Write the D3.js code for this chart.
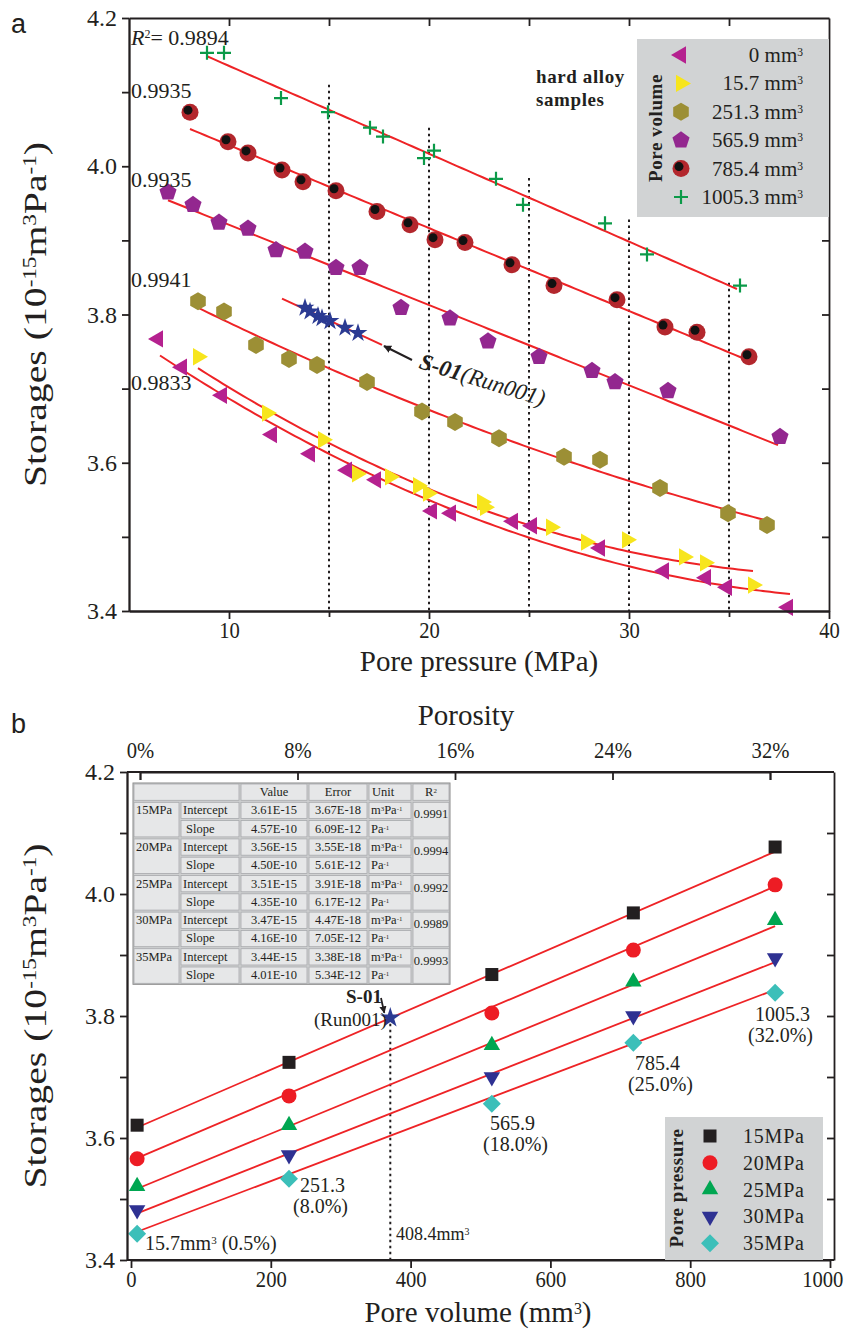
<!DOCTYPE html>
<html>
<head>
<meta charset="utf-8">
<script src="https://cdn.jsdelivr.net/npm/d3@7"></script>
<style>
body { margin: 0; background: #fff; }
text { font-family: "Liberation Serif", serif; fill: #231f20; }
.axis path, .axis line { stroke: #231f20; stroke-width: 1.8; }
.axis text { font-family: "Liberation Serif", serif; font-size: 24px; }
</style>
</head>
<body>
<svg width="847" height="1333"></svg>
<script>
var svg = d3.select('svg');

// ---------- panel a data: [pore pressure MPa, storage 1e-15 m3/Pa]
var vol0 = [[6.45,3.767],[7.65,3.729],[9.65,3.691],[12.15,3.638],[14.05,3.612],[15.9,3.590],[17.35,3.577],[20.15,3.535],[21.1,3.532],[24.2,3.521],[25.15,3.515],[28.55,3.485],[31.75,3.454],[33.85,3.445],[34.9,3.432],[37.95,3.405]];
var vol15 = [[8.45,3.743],[11.9,3.667],[14.7,3.631],[16.4,3.585],[18.05,3.581],[19.45,3.569],[19.95,3.559],[22.65,3.547],[22.8,3.540],[26.1,3.513],[27.85,3.493],[29.9,3.496],[32.75,3.473],[33.8,3.465],[36.2,3.435]];
var vol251 = [[8.45,3.818],[9.75,3.804],[11.35,3.759],[13.0,3.740],[14.4,3.732],[16.9,3.709],[19.65,3.669],[21.3,3.655],[23.5,3.633],[26.75,3.608],[28.55,3.604],[31.55,3.566],[34.95,3.532],[36.9,3.516]];
var vol566 = [[6.95,3.965],[8.2,3.948],[9.5,3.924],[10.95,3.916],[12.35,3.887],[13.8,3.885],[15.35,3.863],[16.55,3.863],[18.6,3.809],[21.05,3.795],[22.95,3.764],[25.5,3.743],[28.15,3.724],[29.3,3.709],[31.95,3.697],[37.55,3.635]];
var vol785 = [[8.05,4.073],[9.95,4.033],[10.95,4.018],[12.65,3.995],[13.7,3.979],[15.35,3.967],[17.4,3.939],[19.05,3.921],[20.3,3.901],[21.8,3.897],[24.15,3.867],[26.25,3.839],[29.4,3.820],[31.8,3.783],[33.4,3.776],[36.0,3.743]];
var vol1005 = [[8.9,4.153],[9.75,4.153],[12.6,4.092],[14.95,4.073],[17.05,4.052],[17.7,4.040],[19.75,4.011],[20.25,4.021],[23.35,3.983],[24.7,3.948],[28.8,3.923],[30.9,3.881],[35.55,3.839]];
var runS01 = [[13.8,3.809],[14.05,3.804],[14.45,3.798],[14.65,3.795],[15.05,3.791],[15.8,3.782],[16.45,3.775]];

var volNames = ['0', '15.7', '251.3', '565.9', '785.4', '1005.3'];
var fitDegree = [2, 2, 2, 1, 1, 1];
var fitSpans = [[6.55,38.05],[8.45,36.2],[8.45,36.9],[6.95,37.55],[8.05,36.0],[8.9,35.55]];
var s01Span = [12.65, 17.65];
var r2Labels = ['0.9894', '0.9935', '0.9935', '0.9941', '0.9833'];
var r2Heights = [4.164, 4.092, 3.972, 3.837, 3.698];
var guideX = [15, 20, 25, 30, 35];
var guideTop = [4.11, 4.052, 3.984, 3.928, 3.843];

// ---------- panel b data
var poreVol = [15.7, 251.3, 565.9, 785.4, 1005.3];
var porosityLbl = ['15.7mm', '251.3', '565.9', '785.4', '1005.3'];
var porosityPct = ['(0.5%)', '(8.0%)', '(18.0%)', '(25.0%)', '(32.0%)'];
var pressures = ['15MPa', '20MPa', '25MPa', '30MPa', '35MPa'];
var stor15 = [3.621, 3.724, 3.868, 3.969, 4.077];
var stor20 = [3.566, 3.669, 3.805, 3.908, 4.015];
var stor25 = [3.521, 3.621, 3.752, 3.856, 3.957];
var stor30 = [3.482, 3.572, 3.700, 3.800, 3.895];
var stor35 = [3.443, 3.533, 3.656, 3.756, 3.838];
var intercepts = [3.61, 3.56, 3.51, 3.47, 3.44];   // 1e-15
var slopes = [4.57, 4.50, 4.35, 4.16, 4.01];       // 1e-10
var interceptTxt = ['3.61E-15', '3.56E-15', '3.51E-15', '3.47E-15', '3.44E-15'];
var interceptErr = ['3.67E-18', '3.55E-18', '3.91E-18', '4.47E-18', '3.38E-18'];
var slopeTxt = ['4.57E-10', '4.50E-10', '4.35E-10', '4.16E-10', '4.01E-10'];
var slopeErr = ['6.09E-12', '5.61E-12', '6.17E-12', '7.05E-12', '5.34E-12'];
var r2b = ['0.9991', '0.9994', '0.9992', '0.9989', '0.9993'];
var s01Vol = 408.4, s01Stor = 3.797;
var volTicks = [0, 200, 400, 600, 800, 1000];
var porosityTicks = ['0%', '8%', '16%', '24%', '32%'];

// ---------- helpers
function poly(n, r, rot) {
    var p = [];
    for (var i = 0; i < n; i++) {
        var a = rot + i * 2 * Math.PI / n;
        p.push([r * Math.cos(a), r * Math.sin(a)]);
    }
    return 'M' + p.join('L') + 'Z';
}

function polyfit(pts, deg) {
    var n = deg + 1, A = [], b = [];
    for (var i = 0; i < n; i++) {
        A.push([]);
        b.push(d3.sum(pts, function(d){ return d[1] * Math.pow(d[0], i); }));
        for (var j = 0; j < n; j++) {
            A[i].push(d3.sum(pts, function(d){ return Math.pow(d[0], i + j); }));
        }
    }
    for (var k = 0; k < n; k++) {
        for (var r = k + 1; r < n; r++) {
            var f = A[r][k] / A[k][k];
            for (var c = k; c < n; c++) A[r][c] -= f * A[k][c];
            b[r] -= f * b[k];
        }
    }
    var coef = new Array(n);
    for (var k2 = n - 1; k2 >= 0; k2--) {
        var s = b[k2];
        for (var c2 = k2 + 1; c2 < n; c2++) s -= A[k2][c2] * coef[c2];
        coef[k2] = s / A[k2][k2];
    }
    return function(x){ return d3.sum(coef, function(c, i){ return c * Math.pow(x, i); }); };
}

function sup(sel, base, s) {
    sel.append('tspan').text(base);
    sel.append('tspan').attr('baseline-shift', 'super').attr('font-size', '0.55em').text(s);
}

function storTitle(sel) {
    sel.append('tspan').text('Storages (10');
    sel.append('tspan').attr('baseline-shift', 'super').attr('font-size', 18).text('-15');
    sel.append('tspan').text('m');
    sel.append('tspan').attr('baseline-shift', 'super').attr('font-size', 18).text('3');
    sel.append('tspan').text('Pa');
    sel.append('tspan').attr('baseline-shift', 'super').attr('font-size', 18).text('-1');
    sel.append('tspan').text(')');
}

// narrow the tick labels, the original uses a condensed face
function narrow(g) {
    g.selectAll('text').attr('transform', 'scale(0.86,1)');
}

// marker drawers for panel a
var markA = [
    function(g){ g.append('path').attr('d', poly(3, 10, Math.PI)).attr('fill', '#b5218f'); },
    function(g){ g.append('path').attr('d', poly(3, 10, 0)).attr('fill', '#f7e51d'); },
    function(g){ g.append('path').attr('d', poly(6, 9, -Math.PI / 2)).attr('fill', '#9c8f35'); },
    function(g){ g.append('path').attr('d', poly(5, 9, -Math.PI / 2)).attr('fill', '#93278f'); },
    function(g){
        g.append('circle').attr('r', 8.5).attr('fill', '#b3272d');
        g.append('circle').attr('r', 4.5).attr('cx', -2).attr('cy', -2).attr('fill', '#111');
    },
    function(g){
        g.append('path').attr('d', 'M-7,0H7M0,-7V7').attr('stroke', '#0b9a48').attr('stroke-width', 2.2);
    }
];

// ================= PANEL A =================
var xA = d3.scaleLinear().domain([5, 40]).range([129, 829]);
var yA = d3.scaleLinear().domain([3.4, 4.2]).range([611, 18]);

svg.append('text').attr('x', 11).attr('y', 33).attr('font-size', 27)
    .style('font-family', '"Liberation Sans", Arial, sans-serif').text('a');

// dotted guides
svg.append('g').selectAll('line').data(guideX).enter().append('line')
    .attr('x1', function(d){ return xA(d); }).attr('x2', function(d){ return xA(d); })
    .attr('y1', function(d, i){ return yA(guideTop[i]); }).attr('y2', yA(3.4))
    .attr('stroke', '#231f20').attr('stroke-width', 2).attr('stroke-dasharray', '2.5,3.5');

var seriesA = [vol0, vol15, vol251, vol566, vol785, vol1005];
var lineA = d3.line().x(function(d){ return xA(d[0]); }).y(function(d){ return yA(d[1]); });

seriesA.forEach(function(data, k){
    var f = polyfit(data, fitDegree[k]);
    var xs = d3.range(fitSpans[k][0], fitSpans[k][1] + 0.01, 0.25);
    svg.append('path').datum(xs.map(function(x){ return [x, f(x)]; }))
        .attr('d', lineA).attr('fill', 'none').attr('stroke', '#ee2326').attr('stroke-width', 2);
});
var fS = polyfit(runS01, 1);
svg.append('path').datum([[s01Span[0], fS(s01Span[0])], [s01Span[1], fS(s01Span[1])]])
    .attr('d', lineA).attr('fill', 'none').attr('stroke', '#ee2326').attr('stroke-width', 2);

seriesA.forEach(function(data, k){
    svg.append('g').selectAll('g').data(data).enter().append('g')
        .attr('transform', function(d){ return 'translate(' + xA(d[0]) + ',' + yA(d[1]) + ')'; })
        .each(function(){ markA[k](d3.select(this)); });
});

svg.append('g').selectAll('path').data(runS01).enter().append('path')
    .attr('d', d3.symbol(d3.symbolStar, 110))
    .attr('transform', function(d){ return 'translate(' + xA(d[0]) + ',' + yA(d[1]) + ')'; })
    .attr('fill', '#2b3a92');

// axes
svg.append('g').attr('class', 'axis').attr('transform', 'translate(0,' + yA(3.4) + ')')
    .call(d3.axisBottom(xA).tickValues([10, 20, 30, 40]).tickSize(8).tickSizeOuter(0).tickPadding(2)).call(narrow);
svg.append('g').attr('class', 'axis').attr('transform', 'translate(0,' + yA(3.4) + ')')
    .call(d3.axisBottom(xA).tickValues([15, 25, 35]).tickSize(6).tickFormat('').tickSizeOuter(0));
svg.append('g').attr('class', 'axis').attr('transform', 'translate(0,' + yA(4.2) + ')')
    .call(d3.axisTop(xA).tickValues([10, 15, 20, 25, 30, 35]).tickSize(-8).tickFormat('').tickSizeOuter(0));
svg.append('g').attr('class', 'axis').attr('transform', 'translate(' + xA(5) + ',0)')
    .call(d3.axisLeft(yA).tickValues([3.4, 3.6, 3.8, 4.0, 4.2]).tickFormat(d3.format('.1f')).tickSize(7).tickSizeOuter(0).tickPadding(5));
svg.append('g').attr('class', 'axis').attr('transform', 'translate(' + xA(5) + ',0)')
    .call(d3.axisLeft(yA).tickValues([3.5, 3.7, 3.9, 4.1]).tickFormat('').tickSize(7).tickSizeOuter(0));
svg.append('g').attr('class', 'axis').attr('transform', 'translate(' + xA(40) + ',0)')
    .call(d3.axisRight(yA).tickValues(d3.range(3.5, 4.15, 0.1)).tickFormat('').tickSize(-7).tickSizeOuter(0));

var tA = svg.append('text').attr('transform', 'translate(46,' + ((yA(3.4) + yA(4.2)) / 2) + ') rotate(-90)')
    .attr('text-anchor', 'middle').attr('font-size', 31)
    .attr('textLength', 345).attr('lengthAdjust', 'spacingAndGlyphs');
storTitle(tA);

svg.append('text').attr('x', (xA(5) + xA(40)) / 2).attr('y', 671).attr('text-anchor', 'middle')
    .attr('font-size', 29).text('Pore pressure (MPa)');

// R2 labels
svg.selectAll('.r2').data(r2Labels).enter().append('text').attr('class', 'r2')
    .attr('x', 131).attr('y', function(d, i){ return yA(r2Heights[i]); })
    .attr('font-size', 22)
    .each(function(d, i){
        var t = d3.select(this);
        if (i === 0) {
            t.append('tspan').attr('font-style', 'italic').text('R');
            t.append('tspan').attr('baseline-shift', 'super').attr('font-size', 12).text('2');
            t.append('tspan').text('= ' + d);
        } else {
            t.text(d);
        }
    });

// S-01 annotation
svg.append('defs').append('marker').attr('id', 'arr').attr('viewBox', '0 0 10 10')
    .attr('refX', 9).attr('refY', 5).attr('markerWidth', 4).attr('markerHeight', 4).attr('orient', 'auto')
    .append('path').attr('d', 'M0,0L10,5L0,10Z').attr('fill', '#231f20');
svg.append('line').attr('x1', 412).attr('y1', 360).attr('x2', 384).attr('y2', 346)
    .attr('stroke', '#231f20').attr('stroke-width', 2).attr('marker-end', 'url(#arr)');
var sA = svg.append('text').attr('transform', 'translate(418,368) rotate(17)').attr('font-size', 23);
sA.append('tspan').attr('font-weight', 'bold').attr('font-style', 'italic').text('S-01');
sA.append('tspan').attr('font-style', 'italic').text('(Run001)');

svg.append('text').attr('x', 536).attr('y', 83).attr('font-size', 19).attr('font-weight', 'bold').attr('letter-spacing', 0.6).text('hard alloy');
svg.append('text').attr('x', 536).attr('y', 106).attr('font-size', 19).attr('font-weight', 'bold').attr('letter-spacing', 0.6).text('samples');

// legend a
svg.append('rect').attr('x', 637).attr('y', 39).attr('width', 192).attr('height', 178).attr('fill', '#d1d3d4');
svg.append('text').attr('transform', 'translate(662,128) rotate(-90)').attr('text-anchor', 'middle')
    .attr('font-size', 19).attr('font-weight', 'bold').attr('letter-spacing', 0.6).text('Pore volume');
volNames.forEach(function(name, k){
    var yy = 55 + k * 28.4;
    var g = svg.append('g').attr('transform', 'translate(681,' + yy + ')');
    markA[k](g);
    var t = svg.append('text').attr('x', 803).attr('y', yy + 7).attr('text-anchor', 'end').attr('font-size', 21);
    sup(t, name + ' mm', '3');
});

// ================= PANEL B =================
var xB = d3.scaleLinear().domain([0, 1000]).range([127, 771.7]);
var xBAxis = d3.scaleLinear().domain([0, 1000]).range([131, 830]);
var yB = d3.scaleLinear().domain([3.4, 4.2]).range([1260, 772]);
var xLeftB = 127, xRightB = 834;

svg.append('text').attr('x', 11).attr('y', 733).attr('font-size', 27)
    .style('font-family', '"Liberation Sans", Arial, sans-serif').text('b');

var colorsB = ['#231f20', '#ed1c24', '#00a651', '#2e3192', '#3cbfb9'];
var markB = [
    function(g, c){ g.append('rect').attr('x', -6.5).attr('y', -6.5).attr('width', 13).attr('height', 13).attr('fill', c); },
    function(g, c){ g.append('circle').attr('r', 7.5).attr('fill', c); },
    function(g, c){ g.append('path').attr('d', poly(3, 9.5, -Math.PI / 2)).attr('fill', c); },
    function(g, c){ g.append('path').attr('d', poly(3, 9.5, Math.PI / 2)).attr('fill', c); },
    function(g, c){ g.append('path').attr('d', poly(4, 9, 0)).attr('fill', c); }
];
var seriesB = [stor15, stor20, stor25, stor30, stor35];
var lineB = d3.line().x(function(d){ return xB(d[0]); }).y(function(d){ return yB(d[1]); });

// dotted line at S-01
svg.append('line').attr('x1', xB(s01Vol)).attr('x2', xB(s01Vol)).attr('y1', yB(s01Stor)).attr('y2', yB(3.4))
    .attr('stroke', '#231f20').attr('stroke-width', 2).attr('stroke-dasharray', '2.5,3.5');

seriesB.forEach(function(vals, k){
    var ends = [poreVol[0], poreVol[4]];
    svg.append('path').datum(ends.map(function(v){ return [v, intercepts[k] + slopes[k] * 1e-4 * v]; }))
        .attr('d', lineB).attr('fill', 'none').attr('stroke', '#ee2326').attr('stroke-width', 1.8);
});
seriesB.forEach(function(vals, k){
    svg.append('g').selectAll('g').data(vals).enter().append('g')
        .attr('transform', function(d, i){ return 'translate(' + xB(poreVol[i]) + ',' + yB(d) + ')'; })
        .each(function(){ markB[k](d3.select(this), colorsB[k]); });
});
svg.append('path').attr('d', d3.symbol(d3.symbolStar, 130))
    .attr('transform', 'translate(' + xB(s01Vol) + ',' + yB(s01Stor) + ')').attr('fill', '#2b3a92');

// axes b
var bx = svg.append('g').attr('class', 'axis').attr('transform', 'translate(0,' + yB(3.4) + ')')
    .call(d3.axisBottom(xBAxis).tickValues(volTicks).tickFormat(d3.format('d')).tickSize(8).tickSizeOuter(0).tickPadding(2)).call(narrow);
bx.selectAll('text').filter(function(d){ return d === 1000; }).attr('dx', -9);
svg.append('line').attr('x1', xLeftB).attr('x2', xRightB).attr('y1', yB(3.4)).attr('y2', yB(3.4)).attr('stroke', '#231f20').attr('stroke-width', 1.8);
svg.append('line').attr('x1', xLeftB).attr('x2', xRightB).attr('y1', yB(4.2)).attr('y2', yB(4.2)).attr('stroke', '#231f20').attr('stroke-width', 1.8);
svg.append('g').attr('class', 'axis').attr('transform', 'translate(' + xLeftB + ',0)')
    .call(d3.axisLeft(yB).tickValues([3.4, 3.6, 3.8, 4.0, 4.2]).tickFormat(d3.format('.1f')).tickSize(7).tickSizeOuter(0).tickPadding(5));
svg.append('g').attr('class', 'axis').attr('transform', 'translate(' + xLeftB + ',0)')
    .call(d3.axisLeft(yB).tickValues([3.5, 3.7, 3.9, 4.1]).tickFormat('').tickSize(7).tickSizeOuter(0));
svg.append('g').attr('class', 'axis').attr('transform', 'translate(' + xRightB + ',0)')
    .call(d3.axisRight(yB).tickValues(d3.range(3.5, 4.15, 0.1)).tickFormat('').tickSize(-7).tickSizeOuter(0));

// porosity top labels
var xP = d3.scalePoint().domain(porosityTicks).range([140, 770]);
svg.append('g').attr('class', 'axis').attr('transform', 'translate(0,' + yB(4.2) + ')')
    .call(d3.axisTop(xP).tickSize(-8).tickPadding(14)).call(narrow);
svg.append('text').attr('x', 466).attr('y', 725).attr('text-anchor', 'middle').attr('font-size', 29).text('Porosity');

var tB = svg.append('text').attr('transform', 'translate(46,' + ((yB(3.4) + yB(4.2)) / 2) + ') rotate(-90)')
    .attr('text-anchor', 'middle').attr('font-size', 31)
    .attr('textLength', 345).attr('lengthAdjust', 'spacingAndGlyphs');
storTitle(tB);

var xt = svg.append('text').attr('x', 478).attr('y', 1322).attr('text-anchor', 'middle').attr('font-size', 29);
sup(xt, 'Pore volume (mm', '3');
xt.append('tspan').attr('baseline-shift', '0').text(')');

// point labels b
var lblPos = [[145, 1250], [300, 1192], [490, 1130], [635, 1070], [755, 1021]];
porosityLbl.forEach(function(l, i){
    if (i === 0) {
        var t0 = svg.append('text').attr('x', lblPos[0][0]).attr('y', lblPos[0][1]).attr('font-size', 20);
        sup(t0, l, '3');
        t0.append('tspan').text(' ' + porosityPct[0]);
    } else {
        svg.append('text').attr('x', lblPos[i][0]).attr('y', lblPos[i][1]).attr('font-size', 20).text(l);
        svg.append('text').attr('x', lblPos[i][0] - 7).attr('y', lblPos[i][1] + 21).attr('font-size', 20).text(porosityPct[i]);
    }
});
var t408 = svg.append('text').attr('x', 396).attr('y', 1240).attr('font-size', 18);
sup(t408, s01Vol + 'mm', '3');

svg.append('text').attr('x', 346).attr('y', 1003).attr('font-size', 19).attr('font-weight', 'bold').text('S-01');
svg.append('text').attr('x', 314).attr('y', 1026).attr('font-size', 19).text('(Run001)');
svg.append('line').attr('x1', 381).attr('y1', 998).attr('x2', xB(s01Vol) - 6).attr('y2', yB(s01Stor) - 5)
    .attr('stroke', '#231f20').attr('stroke-width', 1.8).attr('marker-end', 'url(#arr)');

// legend b
svg.append('rect').attr('x', 665).attr('y', 1117).attr('width', 158).attr('height', 143).attr('fill', '#d1d3d4');
svg.append('text').attr('transform', 'translate(683,1188) rotate(-90)').attr('text-anchor', 'middle')
    .attr('font-size', 19).attr('font-weight', 'bold').attr('letter-spacing', 0.6).text('Pore pressure');
pressures.forEach(function(p, k){
    var yy = 1136 + k * 26.8;
    markB[k](svg.append('g').attr('transform', 'translate(710,' + yy + ')'), colorsB[k]);
    svg.append('text').attr('x', 743).attr('y', yy + 7).attr('font-size', 20).attr('letter-spacing', 0.8).text(p);
});

// fit table
var colX = [133, 180, 240, 308, 368, 412, 450];
var rowH = 18.3, tTop = 783;
var tbl = svg.append('g').attr('font-size', 12.5);
tbl.append('rect').attr('x', colX[0]).attr('y', tTop).attr('width', colX[6] - colX[0]).attr('height', rowH * 11)
    .attr('fill', '#cfd0d1').attr('stroke', '#8a8a8a');
function cell(c0, c1, r0, r1) {
    tbl.append('rect').attr('x', colX[c0] + 1).attr('y', tTop + r0 * rowH + 1)
        .attr('width', colX[c1] - colX[c0] - 2).attr('height', (r1 - r0) * rowH - 2)
        .attr('fill', '#e6e7e8').attr('stroke', '#a7a9ac').attr('stroke-width', 0.8);
}
function ctext(x, y, s, anchor) {
    return tbl.append('text').attr('x', x).attr('y', y).attr('text-anchor', anchor || 'start').text(s);
}
cell(0, 2, 0, 1); cell(2, 3, 0, 1); cell(3, 4, 0, 1); cell(4, 5, 0, 1); cell(5, 6, 0, 1);
ctext((colX[2] + colX[3]) / 2, tTop + 13, 'Value', 'middle');
ctext((colX[3] + colX[4]) / 2, tTop + 13, 'Error', 'middle');
ctext(colX[4] + 4, tTop + 13, 'Unit');
sup(ctext((colX[5] + colX[6]) / 2, tTop + 13, '', 'middle'), 'R', '2');
pressures.forEach(function(p, k){
    var r = 1 + k * 2;
    cell(0, 1, r, r + 2); cell(1, 2, r, r + 1); cell(1, 2, r + 1, r + 2);
    cell(2, 3, r, r + 1); cell(2, 3, r + 1, r + 2); cell(3, 4, r, r + 1); cell(3, 4, r + 1, r + 2);
    cell(4, 5, r, r + 1); cell(4, 5, r + 1, r + 2); cell(5, 6, r, r + 2);
    var y1 = tTop + r * rowH + 13, y2 = y1 + rowH;
    ctext(colX[0] + 3, y1, p);
    ctext(colX[1] + 3, y1, 'Intercept');
    ctext(colX[1] + 6, y2, 'Slope');
    ctext((colX[2] + colX[3]) / 2, y1, interceptTxt[k], 'middle');
    ctext((colX[2] + colX[3]) / 2, y2, slopeTxt[k], 'middle');
    ctext((colX[3] + colX[4]) / 2, y1, interceptErr[k], 'middle');
    ctext((colX[3] + colX[4]) / 2, y2, slopeErr[k], 'middle');
    var u1 = ctext(colX[4] + 3, y1, '');
    sup(u1, 'm', '3'); sup(u1, 'Pa', '-1');
    sup(ctext(colX[4] + 3, y2, ''), 'Pa', '-1');
    ctext((colX[5] + colX[6]) / 2, y1 + 4, r2b[k], 'middle');
});
</script>
</body>
</html>
